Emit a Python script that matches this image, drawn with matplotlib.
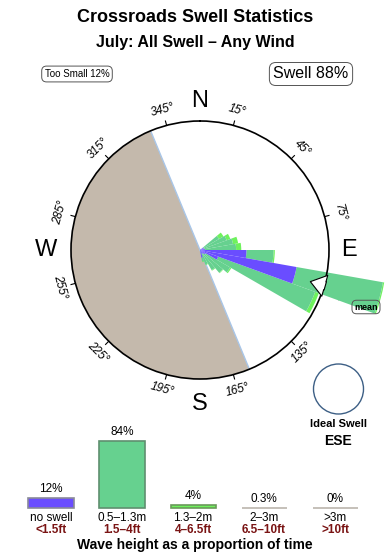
import numpy as np
import matplotlib
matplotlib.use("Agg")
import matplotlib.pyplot as plt
from matplotlib.patches import Ellipse

plt.rcParams['font.family'] = ['Liberation Sans', 'DejaVu Sans']

# swell rose: direction bins (deg, 10 deg wide), cumulative radius per height class
bin_centers = [55, 65, 75, 85, 95, 105, 115, 125, 135, 145, 155, 165]
no_swell = [0.3, 0.3, 0.3, 0.4, 3.6, 7.6, 1.5, 0.5, 0.4, 0.3, 0.3, 0.6]
small_swell = [1.7, 2.2, 2.6, 2.8, 5.7, 14.4, 9.5, 2.7, 2.3, 1.8, 1.2, 0.9]
mid_swell = [2.1, 2.5, 3.0, 3.2, 5.8, 14.5, 9.8, 2.8, 2.35, 1.85, 1.25, 0.95]
shadow_from, shadow_to = 157.5, 337.5
mean_dir = 106
tick_dirs = list(range(15, 360, 30))

# wave height histogram
height_labels = ["no swell", "0.5\u20131.3m", "1.3\u20132m", "2\u20133m", ">3m"]
feet_labels = ["<1.5ft", "1.5\u20134ft", "4\u20136.5ft", "6.5\u201310ft", ">10ft"]
height_pct = [12, 84, 4, 0.3, 0]
pct_text = ["12%", "84%", "4%", "0.3%", "0%"]

BLUE = "#6a4dff"
GREEN = "#66d18f"
LIGHT = "#6ef25c"
SHADOW = "#c4b9ac"
W, H = 390, 560


def px(x, y):
    return x / W, 1 - y / H


fig = plt.figure(figsize=(3.9, 5.6), dpi=100)

fig.text(*px(195, 18), "Crossroads Swell Statistics", ha="center", va="center",
         fontsize=13, fontweight="bold")
fig.text(*px(195, 42), "July: All Swell \u2013 Any Wind", ha="center", va="center",
         fontsize=11.5, fontweight="bold")
fig.text(*px(77, 74), "Too Small 12%", ha="center", va="center", fontsize=7,
         bbox=dict(boxstyle="round,pad=0.3,rounding_size=0.5", fc="white", ec="#555555", lw=0.7))
fig.text(*px(311, 74), "Swell 88%", ha="center", va="center", fontsize=11.5,
         bbox=dict(boxstyle="round,pad=0.25,rounding_size=0.4", fc="white", ec="#555555", lw=0.7))

# rose
R = 10.0
ax = fig.add_axes([71 / W, (H - 250 - 129) / H, 258 / W, 258 / H], projection="polar")
ax.set_theta_zero_location("N")
ax.set_theta_direction(-1)
ax.set_ylim(0, R)
ax.set_xticks([])
ax.set_yticks([])
ax.grid(False)
ax.spines["polar"].set_linewidth(1.2)
ax.spines["polar"].set_zorder(4)

sh_c = np.deg2rad((shadow_from + shadow_to) / 2)
ax.bar(sh_c, R, width=np.deg2rad(shadow_to - shadow_from), color=SHADOW, lw=0, zorder=1)
for a in (shadow_from, shadow_to):
    ax.plot([np.deg2rad(a)] * 2, [0, R], color="#a9c6e8", lw=1, zorder=1.5)

for b in tick_dirs:
    t = np.deg2rad(b)
    ax.plot([t, t], [R, R * 1.035], color="k", lw=0.8, clip_on=False, zorder=2)
    rot = -b if np.cos(t) > 0 else 180 - b
    ax.text(t, 11.2, f"{b}\u00b0", rotation=rot, rotation_mode="anchor", ha="center",
            va="center", fontsize=8.5, style="italic", clip_on=False, zorder=2)

th = np.deg2rad(bin_centers)
wd = np.deg2rad(10)
nb = np.array(no_swell)
sm = np.array(small_swell)
md = np.array(mid_swell)
ax.bar(th, md - sm, bottom=sm, width=wd, color=LIGHT, lw=0, clip_on=False, zorder=3.5)
ax.bar(th, sm - nb, bottom=nb, width=wd, color=GREEN, lw=0, clip_on=False, zorder=3.5)
ax.bar(th, nb, width=wd, color=BLUE, lw=0, clip_on=False, zorder=3.5)

for lab, b, r in [("N", 0, 11.55), ("E", 90, 11.55), ("S", 180, 11.9), ("W", 270, 11.9)]:
    ax.text(np.deg2rad(b), r, lab, ha="center", va="center", fontsize=17, clip_on=False)

ax.annotate("", xy=(np.deg2rad(mean_dir), 8.9), xytext=(np.deg2rad(mean_dir), 10.1),
            arrowprops=dict(arrowstyle="simple,head_length=0.9,head_width=1.3,tail_width=0.5",
                            fc="white", ec="black", lw=0.8, mutation_scale=12,
                            shrinkA=0, shrinkB=0), annotation_clip=False, zorder=5)
fig.text(*px(366, 307), "mean", ha="center", va="center", fontsize=6.5, fontweight="bold",
         bbox=dict(boxstyle="round,pad=0.25,rounding_size=0.5", fc="none", ec="#555555", lw=0.7))

# ideal swell marker
fig.add_artist(Ellipse(px(338.5, 389), 50 / W, 50 / H, fc="none", ec="#3d5f85", lw=1))
fig.text(*px(338, 424), "Ideal Swell", ha="center", va="center", fontsize=8, fontweight="bold")
fig.text(*px(338, 441), "ESE", ha="center", va="center", fontsize=10, fontweight="bold")

# histogram
ax2 = fig.add_axes([15 / W, (H - 508) / H, 360 / W, 88 / H])
ax2.set_xlim(-0.507, 4.563)
ax2.set_ylim(0, 110)
ax2.axis("off")
x = np.arange(len(height_pct))
faces = [BLUE, GREEN, LIGHT, "#bbb5ad", "#bbb5ad"]
edges = ["#8a8a9a", "#5f8f6f", "#6a9a5a", "#bbb5ad", "#bbb5ad"]
ax2.bar(x, height_pct, width=0.634, color=faces, edgecolor=edges, lw=1.2, clip_on=False)
for xi, v, s in zip(x, height_pct, pct_text):
    ax2.annotate(s, (xi, v), xytext=(0, 6.5), textcoords="offset points", ha="center",
                 va="center", fontsize=8.5, annotation_clip=False)
for xi, a, b in zip(x, height_labels, feet_labels):
    ax2.annotate(a, (xi, 0), xytext=(0, -7.5), textcoords="offset points", ha="center",
                 va="center", fontsize=8.5, annotation_clip=False)
    ax2.annotate(b, (xi, 0), xytext=(0, -15.5), textcoords="offset points", ha="center",
                 va="center", fontsize=8.5, fontweight="bold", color="#7a1414",
                 annotation_clip=False)

fig.text(*px(195, 545), "Wave height as a proportion of time", ha="center", va="center",
         fontsize=10, fontweight="bold")

fig.savefig("out.png", dpi=100)
